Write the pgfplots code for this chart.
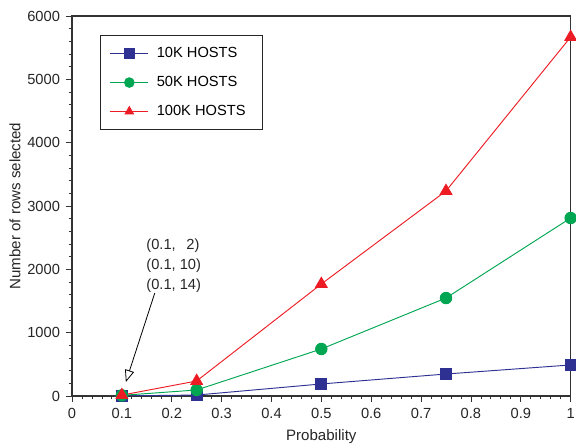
\documentclass[border=0pt]{standalone}
\usepackage{pgfplots}
\pgfplotsset{compat=1.18}
\usepackage{fontspec}
\setmainfont{Liberation Sans}
\usetikzlibrary{arrows.meta}
\definecolor{cblue}{RGB}{46,49,146}
\definecolor{cgreen}{RGB}{0,166,81}
\definecolor{cred}{RGB}{237,28,36}
\begin{document}
\begin{tikzpicture}
\begin{axis}[
  scale only axis,
  width=374pt, height=285pt,
  xmin=0, xmax=1, ymin=0, ymax=6000,
  xtick={0,0.1,...,1}, ytick={0,1000,...,6000},
  xticklabels={0,0.1,0.2,0.3,0.4,0.5,0.6,0.7,0.8,0.9,1},
  minor x tick num=4, minor y tick num=4,
  tick align=outside, xtick pos=left, ytick pos=left,
  major tick length=4.5pt, minor tick length=2.5pt,
  tick style={black!80, line width=0.6pt},
  scaled y ticks=false,
  /pgf/number format/assume math mode=true,
  /pgf/number format/1000 sep={},
  tick label style={font=\fontsize{11}{13}\selectfont, text=black!85},
  xticklabel style={yshift=-1pt},
  yticklabel style={xshift=-1pt},
  xlabel={Probability}, ylabel={Number of rows selected},
  label style={font=\fontsize{11.3}{13}\selectfont, text=black!85},
  xlabel style={at={(axis description cs:0.5,0)}, anchor=center, yshift=-30.75pt},
  ylabel style={at={(axis description cs:0,0.5)}, anchor=center, yshift=42.75pt},
  axis line style={line width=0.9pt, black!80},
  legend style={at={(0.0562,0.95)}, anchor=north west, draw=black!85, line width=0.8pt,
     font=\fontsize{11}{13}\selectfont, row sep=8.5pt, inner xsep=7pt, inner ysep=7pt,
     nodes={inner xsep=6pt}},
  legend cell align=left,
  legend image code/.code={\draw[mark repeat=2,mark phase=2,#1,mark size=3.6pt] plot coordinates {(0cm,0cm) (0.5cm,0cm) (1.0cm,0cm)};},
  clip=false,
]
\addplot[cblue, line width=0.7pt, mark=square*, mark size=4.2pt] coordinates {(0.1,2) (0.25,15) (0.5,190) (0.75,347) (1,490)};
\addlegendentry{10K HOSTS}
\addplot[cgreen, line width=0.7pt, mark=*, mark size=4.3pt] coordinates {(0.1,10) (0.25,95) (0.5,742) (0.75,1547) (1,2810)};
\addlegendentry{50K HOSTS}
\addplot[cred, line width=0.7pt, mark=triangle*, mark size=5pt] coordinates {(0.1,14) (0.25,237) (0.5,1768) (0.75,3237) (1,5668)};
\addlegendentry{100K HOSTS}
\node[font=\fontsize{11}{13}\selectfont, text=black!85, align=left] at (axis cs:0.204,2053) {(0.1,\hphantom{0}\,2)\\[2pt](0.1, 10)\\[2pt](0.1, 14)};
\draw[-{Triangle[open,length=9pt,width=7pt]}, line width=0.6pt] (axis cs:0.166,1626) -- (axis cs:0.108,221);
\end{axis}
\pgfresetboundingbox
\path (current axis.south west)++(-54pt,-36.75pt) coordinate (bbA);
\path (current axis.north east)++(4pt,12pt) coordinate (bbB);
\useasboundingbox (bbA) rectangle (bbB);
\end{tikzpicture}
\end{document}
